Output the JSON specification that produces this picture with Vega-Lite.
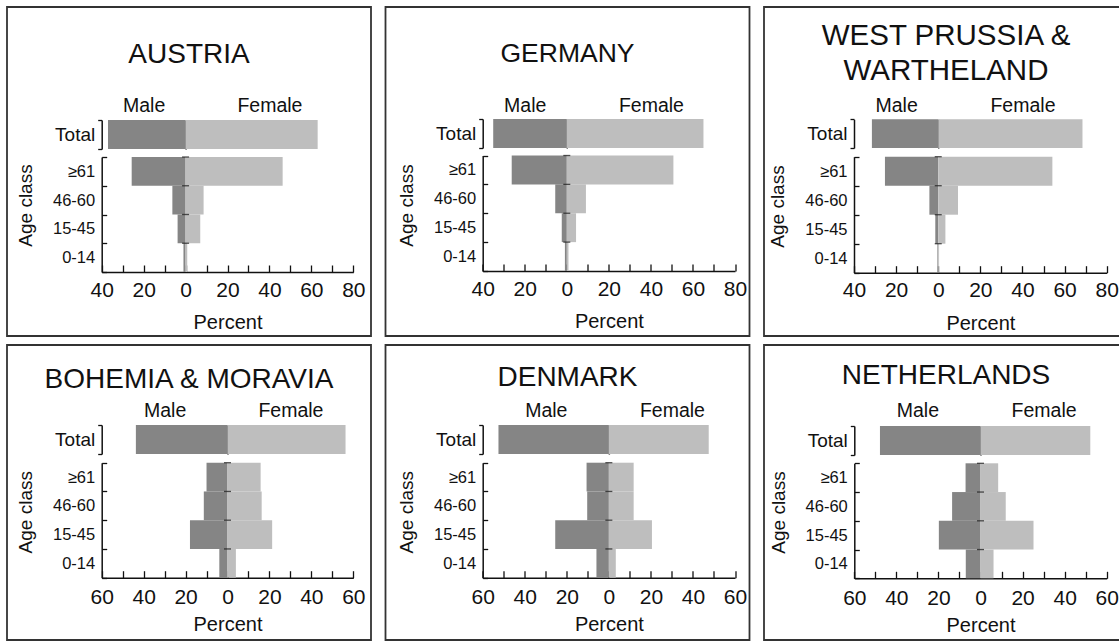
{
  "$schema": "https://vega.github.io/schema/vega-lite/v6.json",
  "padding": {"left": 6, "top": -3, "right": 0, "bottom": 0},
  "background": "white",
  "bounds": "flush",
  "columns": 3,
  "spacing": {"row": 9, "column": 14.5},
  "datasets": {
    "pop": [
      {"country": "Austria", "sex": "Male", "age": "Total", "percent": -37},
      {"country": "Austria", "sex": "Female", "age": "Total", "percent": 63},
      {"country": "Austria", "sex": "Male", "age": "≥61", "percent": -25.7},
      {"country": "Austria", "sex": "Female", "age": "≥61", "percent": 46.3},
      {"country": "Austria", "sex": "Male", "age": "46-60", "percent": -6.3},
      {"country": "Austria", "sex": "Female", "age": "46-60", "percent": 8.6},
      {"country": "Austria", "sex": "Male", "age": "15-45", "percent": -3.8},
      {"country": "Austria", "sex": "Female", "age": "15-45", "percent": 7.0},
      {"country": "Austria", "sex": "Male", "age": "0-14", "percent": -1.0},
      {"country": "Austria", "sex": "Female", "age": "0-14", "percent": 0.8},
      {"country": "Germany", "sex": "Male", "age": "Total", "percent": -35},
      {"country": "Germany", "sex": "Female", "age": "Total", "percent": 65},
      {"country": "Germany", "sex": "Male", "age": "≥61", "percent": -26.2},
      {"country": "Germany", "sex": "Female", "age": "≥61", "percent": 50.7},
      {"country": "Germany", "sex": "Male", "age": "46-60", "percent": -5.5},
      {"country": "Germany", "sex": "Female", "age": "46-60", "percent": 9.1},
      {"country": "Germany", "sex": "Male", "age": "15-45", "percent": -2.4},
      {"country": "Germany", "sex": "Female", "age": "15-45", "percent": 4.4},
      {"country": "Germany", "sex": "Male", "age": "0-14", "percent": -0.9},
      {"country": "Germany", "sex": "Female", "age": "0-14", "percent": 0.8},
      {"country": "West Prussia", "sex": "Male", "age": "Total", "percent": -31.5},
      {"country": "West Prussia", "sex": "Female", "age": "Total", "percent": 68.5},
      {"country": "West Prussia", "sex": "Male", "age": "≥61", "percent": -25.3},
      {"country": "West Prussia", "sex": "Female", "age": "≥61", "percent": 54.2},
      {"country": "West Prussia", "sex": "Male", "age": "46-60", "percent": -4.2},
      {"country": "West Prussia", "sex": "Female", "age": "46-60", "percent": 9.4},
      {"country": "West Prussia", "sex": "Male", "age": "15-45", "percent": -1.4},
      {"country": "West Prussia", "sex": "Female", "age": "15-45", "percent": 3.4},
      {"country": "West Prussia", "sex": "Male", "age": "0-14", "percent": -0.4},
      {"country": "West Prussia", "sex": "Female", "age": "0-14", "percent": 0.4},
      {"country": "Bohemia", "sex": "Male", "age": "Total", "percent": -43.7},
      {"country": "Bohemia", "sex": "Female", "age": "Total", "percent": 56.3},
      {"country": "Bohemia", "sex": "Male", "age": "≥61", "percent": -10.0},
      {"country": "Bohemia", "sex": "Female", "age": "≥61", "percent": 15.8},
      {"country": "Bohemia", "sex": "Male", "age": "46-60", "percent": -11.3},
      {"country": "Bohemia", "sex": "Female", "age": "46-60", "percent": 16.3},
      {"country": "Bohemia", "sex": "Male", "age": "15-45", "percent": -17.9},
      {"country": "Bohemia", "sex": "Female", "age": "15-45", "percent": 21.3},
      {"country": "Bohemia", "sex": "Male", "age": "0-14", "percent": -3.9},
      {"country": "Bohemia", "sex": "Female", "age": "0-14", "percent": 4.0},
      {"country": "Denmark", "sex": "Male", "age": "Total", "percent": -52.5},
      {"country": "Denmark", "sex": "Female", "age": "Total", "percent": 47.5},
      {"country": "Denmark", "sex": "Male", "age": "≥61", "percent": -10.6},
      {"country": "Denmark", "sex": "Female", "age": "≥61", "percent": 11.8},
      {"country": "Denmark", "sex": "Male", "age": "46-60", "percent": -10.3},
      {"country": "Denmark", "sex": "Female", "age": "46-60", "percent": 11.8},
      {"country": "Denmark", "sex": "Male", "age": "15-45", "percent": -25.5},
      {"country": "Denmark", "sex": "Female", "age": "15-45", "percent": 20.5},
      {"country": "Denmark", "sex": "Male", "age": "0-14", "percent": -5.9},
      {"country": "Denmark", "sex": "Female", "age": "0-14", "percent": 3.3},
      {"country": "Netherlands", "sex": "Male", "age": "Total", "percent": -47.8},
      {"country": "Netherlands", "sex": "Female", "age": "Total", "percent": 52.2},
      {"country": "Netherlands", "sex": "Male", "age": "≥61", "percent": -7.1},
      {"country": "Netherlands", "sex": "Female", "age": "≥61", "percent": 8.4},
      {"country": "Netherlands", "sex": "Male", "age": "46-60", "percent": -13.5},
      {"country": "Netherlands", "sex": "Female", "age": "46-60", "percent": 12.0},
      {"country": "Netherlands", "sex": "Male", "age": "15-45", "percent": -19.8},
      {"country": "Netherlands", "sex": "Female", "age": "15-45", "percent": 25.2},
      {"country": "Netherlands", "sex": "Male", "age": "0-14", "percent": -7.0},
      {"country": "Netherlands", "sex": "Female", "age": "0-14", "percent": 6.2}
    ]
  },
  "data": {"name": "pop"},
  "config": {
    "view": {"stroke": "#333333", "strokeWidth": 1.8},
    "font": "Liberation Sans",
    "title": {"fontWeight": "normal", "color": "#111111", "font": "Liberation Sans", "anchor": "middle"},
    "axis": {
      "domainColor": "#111111", "domainWidth": 1.5, "tickColor": "#111111", "tickWidth": 1.3,
      "labelColor": "#111111", "titleColor": "#111111", "labelFont": "Liberation Sans", "titleFont": "Liberation Sans",
      "titleFontWeight": "normal", "grid": false, "zindex": 1, "labelFlush": false, "labelOverlap": false, "labelBound": false
    }
  },
  "concat": [
    {
      "width": 364, "height": 329,
      "title": {"text": "AUSTRIA", "fontSize": 28, "offset": -70.5},
      "transform": [{"filter": "datum.country == 'Austria'"}],
      "resolve": {"scale": {"y": "independent"}, "axis": {"x": "independent", "y": "independent"}},
      "layer": [
        {"transform": [{"filter": "datum.age == 'Total' && datum.sex == 'Male'"}],
         "mark": {"type": "bar", "color": "#858585"},
         "encoding": {
           "x": {"field": "percent", "type": "quantitative", "scale": {"domain": [-40, 80], "range": [94.7, 346.3], "nice": false, "zero": false},
                 "axis": {"orient": "top", "values": [-20, 40], "labelExpr": "datum.value < 0 ? 'Male' : 'Female'", "ticks": false, "domain": false, "title": null, "labelFontSize": 19.5, "labelPadding": 0, "labelBaseline": "alphabetic", "offset": -104.7}},
           "x2": {"datum": 0},
           "y": {"field": "age", "type": "nominal", "scale": {"domain": ["Total"], "range": [113, 142], "paddingInner": 0, "paddingOuter": 0},
                 "axis": {"orient": "left", "offset": -94.7, "tickBand": "extent", "tickSize": 4, "labelPadding": 3, "labelFontSize": 19, "title": null}}
         }},
        {"transform": [{"filter": "datum.age == 'Total' && datum.sex == 'Female'"}],
         "mark": {"type": "bar", "color": "#bebebe"},
         "encoding": {
           "x": {"field": "percent", "type": "quantitative", "axis": null},
           "x2": {"datum": 0},
           "y": {"field": "age", "type": "nominal", "scale": {"domain": ["Total"], "range": [113, 142], "paddingInner": 0, "paddingOuter": 0},
                 "axis": {"orient": "left", "offset": -178.6, "labels": false, "ticks": false, "title": null}}
         }},
        {"transform": [{"filter": "datum.age != 'Total' && datum.sex == 'Male'"}],
         "mark": {"type": "bar", "color": "#858585"},
         "encoding": {
           "x": {"field": "percent", "type": "quantitative",
                 "axis": {"orient": "bottom", "offset": -64, "values": [-40, -30, -20, -10, 0, 10, 20, 30, 40, 50, 60, 70, 80], "labelExpr": "datum.value % 20 == 0 ? '' + abs(datum.value) : ''", "tickSize": -7, "labelPadding": 14, "labelFontSize": 21, "title": "Percent", "titleFontSize": 20, "titlePadding": 12.5}},
           "x2": {"datum": 0},
           "y": {"field": "age", "type": "nominal", "scale": {"domain": ["≥61", "46-60", "15-45", "0-14"], "range": [150, 265], "paddingInner": 0, "paddingOuter": 0},
                 "axis": {"orient": "left", "offset": -94.7, "tickBand": "extent", "tickSize": -5, "labelPadding": 12, "labelFontSize": 16.5, "title": "Age class", "titleFontSize": 19, "titlePadding": 17, "titleY": 198}}
         }},
        {"transform": [{"filter": "datum.age != 'Total' && datum.sex == 'Female'"}],
         "layer": [
           {"mark": {"type": "bar", "color": "#bebebe"},
            "encoding": {
              "x": {"field": "percent", "type": "quantitative", "axis": null},
              "x2": {"datum": 0},
              "y": {"field": "age", "type": "nominal", "scale": {"domain": ["≥61", "46-60", "15-45", "0-14"], "range": [150, 265], "paddingInner": 0, "paddingOuter": 0},
                    "axis": {"orient": "left", "offset": -178.6, "labels": false, "ticks": false, "title": null}}
            }},
           {"mark": {"type": "tick", "orient": "horizontal", "size": 7, "thickness": 1.3, "color": "#111111"},
            "encoding": {
              "x": {"datum": 0, "type": "quantitative", "axis": null},
              "y": {"field": "age", "type": "nominal", "bandPosition": 0, "axis": null}
            }}
         ]}
      ]
    },
    {
      "width": 364, "height": 329,
      "title": {"text": "GERMANY", "fontSize": 26.5, "offset": -69.6},
      "transform": [{"filter": "datum.country == 'Germany'"}],
      "resolve": {"scale": {"y": "independent"}, "axis": {"x": "independent", "y": "independent"}},
      "layer": [
        {"transform": [{"filter": "datum.age == 'Total' && datum.sex == 'Male'"}],
         "mark": {"type": "bar", "color": "#858585"},
         "encoding": {
           "x": {"field": "percent", "type": "quantitative", "scale": {"domain": [-40, 80], "range": [97.2, 349.5], "nice": false, "zero": false},
                 "axis": {"orient": "top", "values": [-20, 40], "labelExpr": "datum.value < 0 ? 'Male' : 'Female'", "ticks": false, "domain": false, "title": null, "labelFontSize": 19.5, "labelPadding": 0, "labelBaseline": "alphabetic", "offset": -104.7}},
           "x2": {"datum": 0},
           "y": {"field": "age", "type": "nominal", "scale": {"domain": ["Total"], "range": [112, 141], "paddingInner": 0, "paddingOuter": 0},
                 "axis": {"orient": "left", "offset": -97.2, "tickBand": "extent", "tickSize": 4, "labelPadding": 3, "labelFontSize": 19, "title": null}}
         }},
        {"transform": [{"filter": "datum.age == 'Total' && datum.sex == 'Female'"}],
         "mark": {"type": "bar", "color": "#bebebe"},
         "encoding": {
           "x": {"field": "percent", "type": "quantitative", "axis": null},
           "x2": {"datum": 0},
           "y": {"field": "age", "type": "nominal", "scale": {"domain": ["Total"], "range": [112, 141], "paddingInner": 0, "paddingOuter": 0},
                 "axis": {"orient": "left", "offset": -181.3, "labels": false, "ticks": false, "title": null}}
         }},
        {"transform": [{"filter": "datum.age != 'Total' && datum.sex == 'Male'"}],
         "mark": {"type": "bar", "color": "#858585"},
         "encoding": {
           "x": {"field": "percent", "type": "quantitative",
                 "axis": {"orient": "bottom", "offset": -65, "values": [-40, -30, -20, -10, 0, 10, 20, 30, 40, 50, 60, 70, 80], "labelExpr": "datum.value % 20 == 0 ? '' + abs(datum.value) : ''", "tickSize": -7, "labelPadding": 14, "labelFontSize": 21, "title": "Percent", "titleFontSize": 20, "titlePadding": 12.5}},
           "x2": {"datum": 0},
           "y": {"field": "age", "type": "nominal", "scale": {"domain": ["≥61", "46-60", "15-45", "0-14"], "range": [148.5, 264], "paddingInner": 0, "paddingOuter": 0},
                 "axis": {"orient": "left", "offset": -97.2, "tickBand": "extent", "tickSize": -5, "labelPadding": 12, "labelFontSize": 16.5, "title": "Age class", "titleFontSize": 19, "titlePadding": 17, "titleY": 198}}
         }},
        {"transform": [{"filter": "datum.age != 'Total' && datum.sex == 'Female'"}],
         "layer": [
           {"mark": {"type": "bar", "color": "#bebebe"},
            "encoding": {
              "x": {"field": "percent", "type": "quantitative", "axis": null},
              "x2": {"datum": 0},
              "y": {"field": "age", "type": "nominal", "scale": {"domain": ["≥61", "46-60", "15-45", "0-14"], "range": [148.5, 264], "paddingInner": 0, "paddingOuter": 0},
                    "axis": {"orient": "left", "offset": -181.3, "labels": false, "ticks": false, "title": null}}
            }},
           {"mark": {"type": "tick", "orient": "horizontal", "size": 7, "thickness": 1.3, "color": "#111111"},
            "encoding": {
              "x": {"datum": 0, "type": "quantitative", "axis": null},
              "y": {"field": "age", "type": "nominal", "bandPosition": 0, "axis": null}
            }}
         ]}
      ]
    },
    {
      "width": 364, "height": 329,
      "title": {"text": ["WEST PRUSSIA &", "WARTHELAND"], "fontSize": 29.5, "lineHeight": 35, "offset": -88.3},
      "transform": [{"filter": "datum.country == 'West Prussia'"}],
      "resolve": {"scale": {"y": "independent"}, "axis": {"x": "independent", "y": "independent"}},
      "layer": [
        {"transform": [{"filter": "datum.age == 'Total' && datum.sex == 'Male'"}],
         "mark": {"type": "bar", "color": "#858585"},
         "encoding": {
           "x": {"field": "percent", "type": "quantitative", "scale": {"domain": [-40, 80], "range": [90, 342.7], "nice": false, "zero": false},
                 "axis": {"orient": "top", "values": [-20, 40], "labelExpr": "datum.value < 0 ? 'Male' : 'Female'", "ticks": false, "domain": false, "title": null, "labelFontSize": 19.5, "labelPadding": 0, "labelBaseline": "alphabetic", "offset": -104.7}},
           "x2": {"datum": 0},
           "y": {"field": "age", "type": "nominal", "scale": {"domain": ["Total"], "range": [112.3, 141], "paddingInner": 0, "paddingOuter": 0},
                 "axis": {"orient": "left", "offset": -90, "tickBand": "extent", "tickSize": 4, "labelPadding": 3, "labelFontSize": 19, "title": null}}
         }},
        {"transform": [{"filter": "datum.age == 'Total' && datum.sex == 'Female'"}],
         "mark": {"type": "bar", "color": "#bebebe"},
         "encoding": {
           "x": {"field": "percent", "type": "quantitative", "axis": null},
           "x2": {"datum": 0},
           "y": {"field": "age", "type": "nominal", "scale": {"domain": ["Total"], "range": [112.3, 141], "paddingInner": 0, "paddingOuter": 0},
                 "axis": {"orient": "left", "offset": -174.2, "labels": false, "ticks": false, "title": null}}
         }},
        {"transform": [{"filter": "datum.age != 'Total' && datum.sex == 'Male'"}],
         "mark": {"type": "bar", "color": "#858585"},
         "encoding": {
           "x": {"field": "percent", "type": "quantitative",
                 "axis": {"orient": "bottom", "offset": -63.3, "values": [-40, -30, -20, -10, 0, 10, 20, 30, 40, 50, 60, 70, 80], "labelExpr": "datum.value % 20 == 0 ? '' + abs(datum.value) : ''", "tickSize": -7, "labelPadding": 14, "labelFontSize": 21, "title": "Percent", "titleFontSize": 20, "titlePadding": 12.5}},
           "x2": {"datum": 0},
           "y": {"field": "age", "type": "nominal", "scale": {"domain": ["≥61", "46-60", "15-45", "0-14"], "range": [149.7, 265.7], "paddingInner": 0, "paddingOuter": 0},
                 "axis": {"orient": "left", "offset": -90, "tickBand": "extent", "tickSize": -5, "labelPadding": 12, "labelFontSize": 16.5, "title": "Age class", "titleFontSize": 19, "titlePadding": 17, "titleY": 199}}
         }},
        {"transform": [{"filter": "datum.age != 'Total' && datum.sex == 'Female'"}],
         "layer": [
           {"mark": {"type": "bar", "color": "#bebebe"},
            "encoding": {
              "x": {"field": "percent", "type": "quantitative", "axis": null},
              "x2": {"datum": 0},
              "y": {"field": "age", "type": "nominal", "scale": {"domain": ["≥61", "46-60", "15-45", "0-14"], "range": [149.7, 265.7], "paddingInner": 0, "paddingOuter": 0},
                    "axis": {"orient": "left", "offset": -174.2, "labels": false, "ticks": false, "title": null}}
            }},
           {"mark": {"type": "tick", "orient": "horizontal", "size": 7, "thickness": 1.3, "color": "#111111"},
            "encoding": {
              "x": {"datum": 0, "type": "quantitative", "axis": null},
              "y": {"field": "age", "type": "nominal", "bandPosition": 0, "axis": null}
            }}
         ]}
      ]
    },
    {
      "width": 364, "height": 295,
      "title": {"text": "BOHEMIA & MORAVIA", "fontSize": 28, "offset": -57.6},
      "transform": [{"filter": "datum.country == 'Bohemia'"}],
      "resolve": {"scale": {"y": "independent"}, "axis": {"x": "independent", "y": "independent"}},
      "layer": [
        {"transform": [{"filter": "datum.age == 'Total' && datum.sex == 'Male'"}],
         "mark": {"type": "bar", "color": "#858585"},
         "encoding": {
           "x": {"field": "percent", "type": "quantitative", "scale": {"domain": [-60, 60], "range": [94.7, 346.3], "nice": false, "zero": false},
                 "axis": {"orient": "top", "values": [-30, 30], "labelExpr": "datum.value < 0 ? 'Male' : 'Female'", "ticks": false, "domain": false, "title": null, "labelFontSize": 19.5, "labelPadding": 0, "labelBaseline": "alphabetic", "offset": -71.7}},
           "x2": {"datum": 0},
           "y": {"field": "age", "type": "nominal", "scale": {"domain": ["Total"], "range": [80, 109], "paddingInner": 0, "paddingOuter": 0},
                 "axis": {"orient": "left", "offset": -94.7, "tickBand": "extent", "tickSize": 4, "labelPadding": 3, "labelFontSize": 19, "title": null}}
         }},
        {"transform": [{"filter": "datum.age == 'Total' && datum.sex == 'Female'"}],
         "mark": {"type": "bar", "color": "#bebebe"},
         "encoding": {
           "x": {"field": "percent", "type": "quantitative", "axis": null},
           "x2": {"datum": 0},
           "y": {"field": "age", "type": "nominal", "scale": {"domain": ["Total"], "range": [80, 109], "paddingInner": 0, "paddingOuter": 0},
                 "axis": {"orient": "left", "offset": -220.5, "labels": false, "ticks": false, "title": null}}
         }},
        {"transform": [{"filter": "datum.age != 'Total' && datum.sex == 'Male'"}],
         "mark": {"type": "bar", "color": "#858585"},
         "encoding": {
           "x": {"field": "percent", "type": "quantitative",
                 "axis": {"orient": "bottom", "offset": -62.3, "values": [-60, -50, -40, -30, -20, -10, 0, 10, 20, 30, 40, 50, 60], "labelExpr": "datum.value % 20 == 0 ? '' + abs(datum.value) : ''", "tickSize": -7, "labelPadding": 16, "labelFontSize": 21, "title": "Percent", "titleFontSize": 20, "titlePadding": 7}},
           "x2": {"datum": 0},
           "y": {"field": "age", "type": "nominal", "scale": {"domain": ["≥61", "46-60", "15-45", "0-14"], "range": [117.7, 232.7], "paddingInner": 0, "paddingOuter": 0},
                 "axis": {"orient": "left", "offset": -94.7, "tickBand": "extent", "tickSize": -5, "labelPadding": 12, "labelFontSize": 16.5, "title": "Age class", "titleFontSize": 19, "titlePadding": 17, "titleY": 166.7}}
         }},
        {"transform": [{"filter": "datum.age != 'Total' && datum.sex == 'Female'"}],
         "layer": [
           {"mark": {"type": "bar", "color": "#bebebe"},
            "encoding": {
              "x": {"field": "percent", "type": "quantitative", "axis": null},
              "x2": {"datum": 0},
              "y": {"field": "age", "type": "nominal", "scale": {"domain": ["≥61", "46-60", "15-45", "0-14"], "range": [117.7, 232.7], "paddingInner": 0, "paddingOuter": 0},
                    "axis": {"orient": "left", "offset": -220.5, "labels": false, "ticks": false, "title": null}}
            }},
           {"mark": {"type": "tick", "orient": "horizontal", "size": 7, "thickness": 1.3, "color": "#111111"},
            "encoding": {
              "x": {"datum": 0, "type": "quantitative", "axis": null},
              "y": {"field": "age", "type": "nominal", "bandPosition": 0, "axis": null}
            }}
         ]}
      ]
    },
    {
      "width": 364, "height": 295,
      "title": {"text": "DENMARK", "fontSize": 28, "offset": -56},
      "transform": [{"filter": "datum.country == 'Denmark'"}],
      "resolve": {"scale": {"y": "independent"}, "axis": {"x": "independent", "y": "independent"}},
      "layer": [
        {"transform": [{"filter": "datum.age == 'Total' && datum.sex == 'Male'"}],
         "mark": {"type": "bar", "color": "#858585"},
         "encoding": {
           "x": {"field": "percent", "type": "quantitative", "scale": {"domain": [-60, 60], "range": [97.2, 349.5], "nice": false, "zero": false},
                 "axis": {"orient": "top", "values": [-30, 30], "labelExpr": "datum.value < 0 ? 'Male' : 'Female'", "ticks": false, "domain": false, "title": null, "labelFontSize": 19.5, "labelPadding": 0, "labelBaseline": "alphabetic", "offset": -71.7}},
           "x2": {"datum": 0},
           "y": {"field": "age", "type": "nominal", "scale": {"domain": ["Total"], "range": [80, 109], "paddingInner": 0, "paddingOuter": 0},
                 "axis": {"orient": "left", "offset": -97.2, "tickBand": "extent", "tickSize": 4, "labelPadding": 3, "labelFontSize": 19, "title": null}}
         }},
        {"transform": [{"filter": "datum.age == 'Total' && datum.sex == 'Female'"}],
         "mark": {"type": "bar", "color": "#bebebe"},
         "encoding": {
           "x": {"field": "percent", "type": "quantitative", "axis": null},
           "x2": {"datum": 0},
           "y": {"field": "age", "type": "nominal", "scale": {"domain": ["Total"], "range": [80, 109], "paddingInner": 0, "paddingOuter": 0},
                 "axis": {"orient": "left", "offset": -223.35, "labels": false, "ticks": false, "title": null}}
         }},
        {"transform": [{"filter": "datum.age != 'Total' && datum.sex == 'Male'"}],
         "mark": {"type": "bar", "color": "#858585"},
         "encoding": {
           "x": {"field": "percent", "type": "quantitative",
                 "axis": {"orient": "bottom", "offset": -62.3, "values": [-60, -50, -40, -30, -20, -10, 0, 10, 20, 30, 40, 50, 60], "labelExpr": "datum.value % 20 == 0 ? '' + abs(datum.value) : ''", "tickSize": -7, "labelPadding": 16, "labelFontSize": 21, "title": "Percent", "titleFontSize": 20, "titlePadding": 7}},
           "x2": {"datum": 0},
           "y": {"field": "age", "type": "nominal", "scale": {"domain": ["≥61", "46-60", "15-45", "0-14"], "range": [117.7, 232.7], "paddingInner": 0, "paddingOuter": 0},
                 "axis": {"orient": "left", "offset": -97.2, "tickBand": "extent", "tickSize": -5, "labelPadding": 12, "labelFontSize": 16.5, "title": "Age class", "titleFontSize": 19, "titlePadding": 17, "titleY": 166.7}}
         }},
        {"transform": [{"filter": "datum.age != 'Total' && datum.sex == 'Female'"}],
         "layer": [
           {"mark": {"type": "bar", "color": "#bebebe"},
            "encoding": {
              "x": {"field": "percent", "type": "quantitative", "axis": null},
              "x2": {"datum": 0},
              "y": {"field": "age", "type": "nominal", "scale": {"domain": ["≥61", "46-60", "15-45", "0-14"], "range": [117.7, 232.7], "paddingInner": 0, "paddingOuter": 0},
                    "axis": {"orient": "left", "offset": -223.35, "labels": false, "ticks": false, "title": null}}
            }},
           {"mark": {"type": "tick", "orient": "horizontal", "size": 7, "thickness": 1.3, "color": "#111111"},
            "encoding": {
              "x": {"datum": 0, "type": "quantitative", "axis": null},
              "y": {"field": "age", "type": "nominal", "bandPosition": 0, "axis": null}
            }}
         ]}
      ]
    },
    {
      "width": 364, "height": 295,
      "title": {"text": "NETHERLANDS", "fontSize": 28, "offset": -54.3},
      "transform": [{"filter": "datum.country == 'Netherlands'"}],
      "resolve": {"scale": {"y": "independent"}, "axis": {"x": "independent", "y": "independent"}},
      "layer": [
        {"transform": [{"filter": "datum.age == 'Total' && datum.sex == 'Male'"}],
         "mark": {"type": "bar", "color": "#858585"},
         "encoding": {
           "x": {"field": "percent", "type": "quantitative", "scale": {"domain": [-60, 60], "range": [90.3, 342.7], "nice": false, "zero": false},
                 "axis": {"orient": "top", "values": [-30, 30], "labelExpr": "datum.value < 0 ? 'Male' : 'Female'", "ticks": false, "domain": false, "title": null, "labelFontSize": 19.5, "labelPadding": 0, "labelBaseline": "alphabetic", "offset": -71.7}},
           "x2": {"datum": 0},
           "y": {"field": "age", "type": "nominal", "scale": {"domain": ["Total"], "range": [81, 110], "paddingInner": 0, "paddingOuter": 0},
                 "axis": {"orient": "left", "offset": -90.3, "tickBand": "extent", "tickSize": 4, "labelPadding": 3, "labelFontSize": 19, "title": null}}
         }},
        {"transform": [{"filter": "datum.age == 'Total' && datum.sex == 'Female'"}],
         "mark": {"type": "bar", "color": "#bebebe"},
         "encoding": {
           "x": {"field": "percent", "type": "quantitative", "axis": null},
           "x2": {"datum": 0},
           "y": {"field": "age", "type": "nominal", "scale": {"domain": ["Total"], "range": [81, 110], "paddingInner": 0, "paddingOuter": 0},
                 "axis": {"orient": "left", "offset": -216.5, "labels": false, "ticks": false, "title": null}}
         }},
        {"transform": [{"filter": "datum.age != 'Total' && datum.sex == 'Male'"}],
         "mark": {"type": "bar", "color": "#858585"},
         "encoding": {
           "x": {"field": "percent", "type": "quantitative",
                 "axis": {"orient": "bottom", "offset": -61.7, "values": [-60, -50, -40, -30, -20, -10, 0, 10, 20, 30, 40, 50, 60], "labelExpr": "datum.value % 20 == 0 ? '' + abs(datum.value) : ''", "tickSize": -7, "labelPadding": 16, "labelFontSize": 21, "title": "Percent", "titleFontSize": 20, "titlePadding": 7}},
           "x2": {"datum": 0},
           "y": {"field": "age", "type": "nominal", "scale": {"domain": ["≥61", "46-60", "15-45", "0-14"], "range": [118.3, 233.3], "paddingInner": 0, "paddingOuter": 0},
                 "axis": {"orient": "left", "offset": -90.3, "tickBand": "extent", "tickSize": -5, "labelPadding": 12, "labelFontSize": 16.5, "title": "Age class", "titleFontSize": 19, "titlePadding": 17, "titleY": 167}}
         }},
        {"transform": [{"filter": "datum.age != 'Total' && datum.sex == 'Female'"}],
         "layer": [
           {"mark": {"type": "bar", "color": "#bebebe"},
            "encoding": {
              "x": {"field": "percent", "type": "quantitative", "axis": null},
              "x2": {"datum": 0},
              "y": {"field": "age", "type": "nominal", "scale": {"domain": ["≥61", "46-60", "15-45", "0-14"], "range": [118.3, 233.3], "paddingInner": 0, "paddingOuter": 0},
                    "axis": {"orient": "left", "offset": -216.5, "labels": false, "ticks": false, "title": null}}
            }},
           {"mark": {"type": "tick", "orient": "horizontal", "size": 7, "thickness": 1.3, "color": "#111111"},
            "encoding": {
              "x": {"datum": 0, "type": "quantitative", "axis": null},
              "y": {"field": "age", "type": "nominal", "bandPosition": 0, "axis": null}
            }}
         ]}
      ]
    }
  ]
}
